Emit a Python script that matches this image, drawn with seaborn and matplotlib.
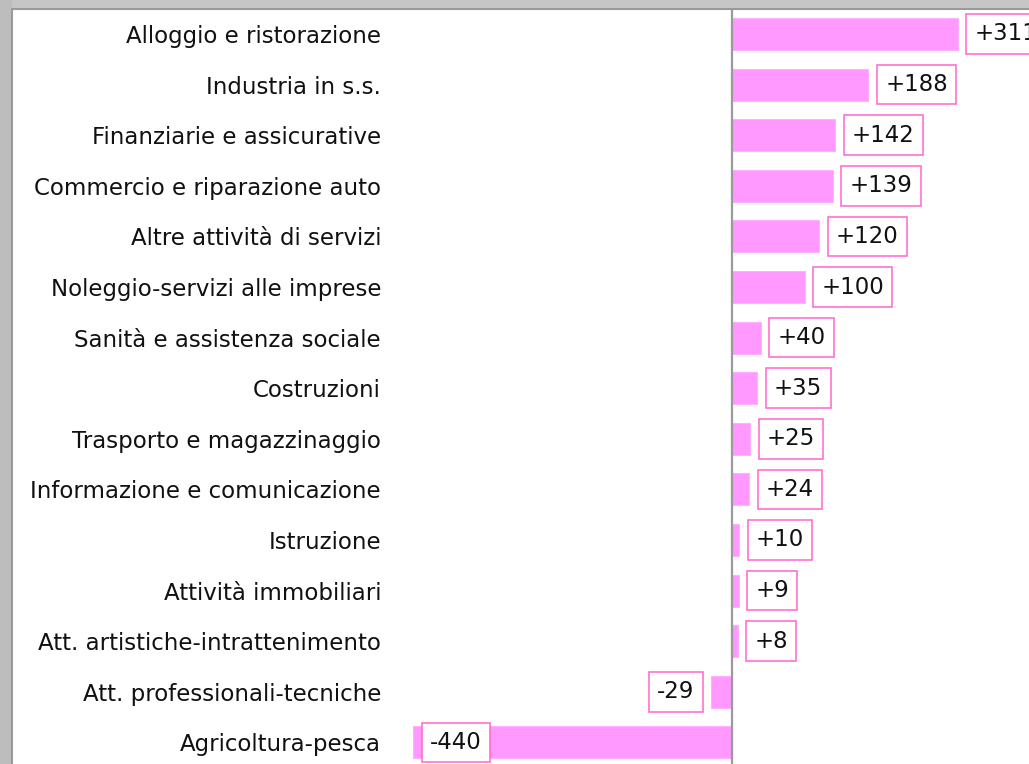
import matplotlib
matplotlib.use("Agg")
import matplotlib.pyplot as plt
import seaborn as sns
import pandas as pd
from matplotlib.patches import Rectangle

categories = [
    "Alloggio e ristorazione",
    "Industria in s.s.",
    "Finanziarie e assicurative",
    "Commercio e riparazione auto",
    "Altre attività di servizi",
    "Noleggio-servizi alle imprese",
    "Sanità e assistenza sociale",
    "Costruzioni",
    "Trasporto e magazzinaggio",
    "Informazione e comunicazione",
    "Istruzione",
    "Attività immobiliari",
    "Att. artistiche-intrattenimento",
    "Att. professionali-tecniche",
    "Agricoltura-pesca",
]
values = [311, 188, 142, 139, 120, 100, 40, 35, 25, 24, 10, 9, 8, -29, -440]

df = pd.DataFrame({"settore": categories, "saldo": values})

sns.set_theme(style="white")
plt.rcParams["font.family"] = ["DejaVu Sans"]

W, H = 1029, 764
fig = plt.figure(figsize=(W / 100, H / 100), dpi=100)
fig.patch.set_facecolor("#c6c6c6")

# left darker strip of the window frame
fig.patches.append(Rectangle((0, 0), 12 / W, 1, transform=fig.transFigure,
                             facecolor="#bdbdbd", edgecolor="none", zorder=0))
# white panel
fig.patches.append(Rectangle((12 / W, -0.01), 1.0, (H - 9) / H + 0.01,
                             transform=fig.transFigure, facecolor="white",
                             edgecolor="#9a9a9a", linewidth=1.5, zorder=1))

zero_px = 732
px_per_unit = 0.726
ax_left_px = 413
ax_top_px = 8.7
row_h = 50.6
n = len(categories)
ax_h_px = row_h * n
xmin = -(zero_px - ax_left_px) / px_per_unit
xmax = (W - zero_px) / px_per_unit

ax = fig.add_axes([ax_left_px / W, (H - ax_top_px - ax_h_px) / H,
                   (W - ax_left_px) / W, ax_h_px / H])
ax.set_facecolor("none")
ax.set_zorder(2)

sns.barplot(data=df, x="saldo", y="settore", orient="h", color="#ff99ff",
            saturation=1, width=0.63, edgecolor="#ffb0ff", linewidth=0.8, ax=ax)

ax.set_xlim(xmin, xmax)
ax.set_ylim(n - 0.5, -0.5)
ax.axvline(0, color="#9a9a9a", linewidth=1.6, zorder=3)
for s in ax.spines.values():
    s.set_visible(False)
ax.set_xticks([])
ax.set_xlabel("")
ax.set_ylabel("")
ax.tick_params(axis="y", length=0, pad=23, labelsize=16.5, labelcolor="#111111")

fs = 16.5
for i, v in enumerate(values):
    label = f"+{v}" if v > 0 else f"{v}"
    box = dict(boxstyle="square,pad=0.36", facecolor="white",
               edgecolor="#ff66cc", linewidth=1.1)
    room_px = (v - xmin) * px_per_unit
    if v >= 0:
        ax.annotate(label, (v, i), xytext=(12, 0), textcoords="offset points",
                    ha="left", va="center", fontsize=fs, color="#111111",
                    bbox=box, annotation_clip=False, zorder=4)
    elif room_px < 100:
        ax.annotate(label, (v, i), xytext=(12.5, 0), textcoords="offset points",
                    ha="left", va="center", fontsize=fs, color="#111111",
                    bbox=box, annotation_clip=False, zorder=4)
    else:
        ax.annotate(label, (v, i), xytext=(-12, 0), textcoords="offset points",
                    ha="right", va="center", fontsize=fs, color="#111111",
                    bbox=box, annotation_clip=False, zorder=4)

fig.savefig("out.png", dpi=100, facecolor=fig.get_facecolor())
